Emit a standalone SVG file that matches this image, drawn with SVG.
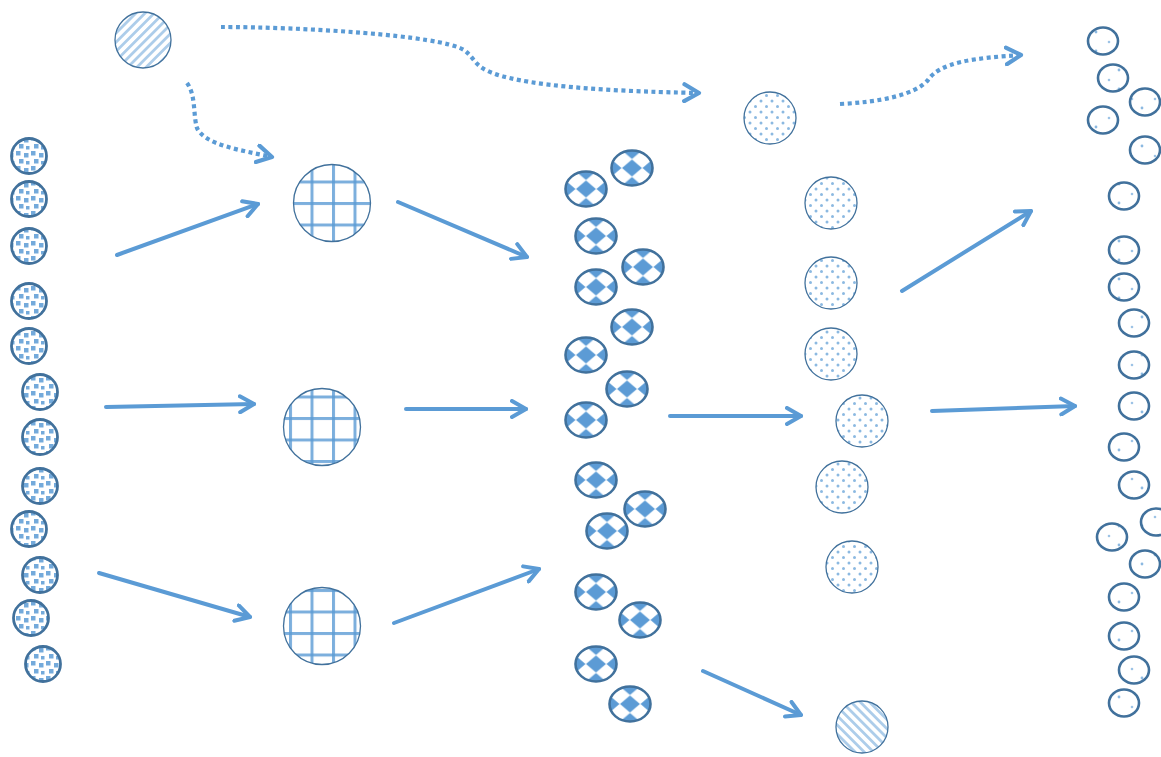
<svg xmlns="http://www.w3.org/2000/svg" width="1161" height="757" viewBox="0 0 1161 757">
<style>
.arr{fill:none;stroke:#5B9BD5;stroke-width:4;stroke-linecap:round;marker-end:url(#ah)}
.dot{fill:none;stroke:#5B9BD5;stroke-width:4.2;stroke-dasharray:4 3.5;marker-end:url(#ah)}
.sq{fill:url(#pSq);stroke:#41719C;stroke-width:2.8}
.grid{fill:url(#pGrid);stroke:#41719C;stroke-width:1.3}
.dia{fill:url(#pDia);stroke:#41719C;stroke-width:2.6}
.dt{fill:url(#pDot);stroke:#41719C;stroke-width:1.3}
.hu{fill:url(#pHatchUp);stroke:#41719C;stroke-width:1.3}
.hd{fill:url(#pHatchDn);stroke:#41719C;stroke-width:1.3}
.sm{fill:url(#pSm);stroke:#41719C;stroke-width:2.6}
</style>
<defs>
<filter id="soft" x="-20%" y="-20%" width="140%" height="140%"><feGaussianBlur stdDeviation="0.6"/></filter>
<marker id="ah" viewBox="0 0 10 10" refX="8" refY="5" markerWidth="5" markerHeight="5" orient="auto" markerUnits="strokeWidth">
<path d="M1,1 L8,5 L1,9" fill="none" stroke="#5B9BD5" stroke-width="2" stroke-linecap="round" stroke-linejoin="round"/>
</marker>
<pattern id="pSq" patternUnits="userSpaceOnUse" width="15" height="15">
<rect width="15" height="15" fill="#fff"/>
<g fill="#5B9BD5" opacity="0.85">
<rect x="1" y="1" width="4.5" height="4.5"/><rect x="9" y="3" width="4.5" height="4.5"/><rect x="4" y="9" width="4.5" height="4.5"/><rect x="11" y="11" width="3.5" height="3.5"/>
</g>
</pattern>
<pattern id="pGrid" patternUnits="userSpaceOnUse" width="21.5" height="21.5" x="9.5" y="8.5">
<rect width="21.5" height="21.5" fill="#fff"/>
<rect x="0" y="0" width="3" height="21.5" fill="#5B9BD5" opacity="0.8"/>
<rect x="0" y="0" width="21.5" height="3" fill="#5B9BD5" opacity="0.8"/>
</pattern>
<pattern id="pDia" patternUnits="objectBoundingBox" x="0.25" y="0.25" width="0.5" height="0.5">
<rect width="20.5" height="17.5" fill="#fff"/>
<path d="M10.25,0.3 L20.2,8.75 L10.25,17.2 L0.3,8.75Z" fill="#5B9BD5" filter="url(#soft)"/>
</pattern>
<pattern id="pDot" patternUnits="userSpaceOnUse" width="11" height="11">
<rect width="11" height="11" fill="#fff"/>
<circle cx="2" cy="2" r="1.5" fill="#5B9BD5" opacity="0.7"/><circle cx="7.5" cy="7.5" r="1.5" fill="#5B9BD5" opacity="0.7"/>
</pattern>
<pattern id="pHatchUp" patternUnits="userSpaceOnUse" width="6.5" height="6.5" patternTransform="rotate(45)">
<rect width="6.5" height="6.5" fill="#fff"/><rect x="0" y="0" width="2.8" height="6.5" fill="#5B9BD5" opacity="0.5"/>
</pattern>
<pattern id="pHatchDn" patternUnits="userSpaceOnUse" width="6.5" height="6.5" patternTransform="rotate(-45)">
<rect width="6.5" height="6.5" fill="#fff"/><rect x="0" y="0" width="2.8" height="6.5" fill="#5B9BD5" opacity="0.5"/>
</pattern>
<pattern id="pSm" patternUnits="userSpaceOnUse" width="23" height="19">
<rect width="23" height="19" fill="#fff"/><circle cx="5" cy="4" r="1.3" fill="#5B9BD5" opacity="0.6"/><circle cx="15" cy="13" r="1.4" fill="#5B9BD5" opacity="0.7"/>
</pattern>
</defs>
<rect width="1161" height="757" fill="#fff"/>

<g id="connectors">
<path class="dot" d="M187,83 C196,95 193,115 197,128 C205,145 240,150 272,157"/>
<path class="dot" d="M221,27 C300,27 440,35 464,50 C480,62 470,72 530,82 C580,90 650,92 699,93"/>
<path class="dot" d="M840,104 C880,102 915,95 928,80 C940,62 975,58 1021,55"/>
<line class="arr" x1="117" y1="255" x2="258" y2="204"/>
<line class="arr" x1="106" y1="407" x2="254" y2="404"/>
<line class="arr" x1="99" y1="573" x2="250" y2="617"/>
<line class="arr" x1="398" y1="202" x2="527" y2="257"/>
<line class="arr" x1="406" y1="409" x2="526" y2="409"/>
<line class="arr" x1="394" y1="623" x2="539" y2="569"/>
<line class="arr" x1="670" y1="416" x2="801" y2="416"/>
<line class="arr" x1="703" y1="671" x2="801" y2="715"/>
<line class="arr" x1="902" y1="291" x2="1031" y2="211"/>
<line class="arr" x1="932" y1="411" x2="1075" y2="406"/>
</g>

<g id="source"><circle class="hu" cx="143" cy="40" r="28"/></g>

<g id="left-column">
<circle class="sq" cx="29" cy="156" r="17.5"/>
<circle class="sq" cx="29" cy="199" r="17.5"/>
<circle class="sq" cx="29" cy="246" r="17.5"/>
<circle class="sq" cx="29" cy="301" r="17.5"/>
<circle class="sq" cx="29" cy="346" r="17.5"/>
<circle class="sq" cx="40" cy="392" r="17.5"/>
<circle class="sq" cx="40" cy="437" r="17.5"/>
<circle class="sq" cx="40" cy="486" r="17.5"/>
<circle class="sq" cx="29" cy="529" r="17.5"/>
<circle class="sq" cx="40" cy="575" r="17.5"/>
<circle class="sq" cx="31" cy="618" r="17.5"/>
<circle class="sq" cx="43" cy="664" r="17.5"/>
</g>

<g id="grid-1"><circle class="grid" cx="332" cy="203" r="38.5"/></g>
<g id="grid-2"><circle class="grid" cx="322" cy="427" r="38.5"/></g>
<g id="grid-3"><circle class="grid" cx="322" cy="626" r="38.5"/></g>

<g id="diamond-column">
<ellipse class="dia" cx="632" cy="168" rx="20.5" ry="17.5"/>
<ellipse class="dia" cx="586" cy="189" rx="20.5" ry="17.5"/>
<ellipse class="dia" cx="596" cy="236" rx="20.5" ry="17.5"/>
<ellipse class="dia" cx="643" cy="267" rx="20.5" ry="17.5"/>
<ellipse class="dia" cx="596" cy="287" rx="20.5" ry="17.5"/>
<ellipse class="dia" cx="632" cy="327" rx="20.5" ry="17.5"/>
<ellipse class="dia" cx="586" cy="355" rx="20.5" ry="17.5"/>
<ellipse class="dia" cx="627" cy="389" rx="20.5" ry="17.5"/>
<ellipse class="dia" cx="586" cy="420" rx="20.5" ry="17.5"/>
<ellipse class="dia" cx="596" cy="480" rx="20.5" ry="17.5"/>
<ellipse class="dia" cx="645" cy="509" rx="20.5" ry="17.5"/>
<ellipse class="dia" cx="607" cy="531" rx="20.5" ry="17.5"/>
<ellipse class="dia" cx="596" cy="592" rx="20.5" ry="17.5"/>
<ellipse class="dia" cx="640" cy="620" rx="20.5" ry="17.5"/>
<ellipse class="dia" cx="596" cy="664" rx="20.5" ry="17.5"/>
<ellipse class="dia" cx="630" cy="704" rx="20.5" ry="17.5"/>
</g>

<g id="dotted-top"><circle class="dt" cx="770" cy="118" r="26"/></g>
<g id="dotted-column">
<circle class="dt" cx="831" cy="203" r="26"/>
<circle class="dt" cx="831" cy="283" r="26"/>
<circle class="dt" cx="831" cy="354" r="26"/>
<circle class="dt" cx="862" cy="421" r="26"/>
<circle class="dt" cx="842" cy="487" r="26"/>
<circle class="dt" cx="852" cy="567" r="26"/>
</g>
<g id="hatched-bottom"><circle class="hd" cx="862" cy="727" r="26"/></g>

<g id="right-column">
<ellipse class="sm" cx="1103" cy="41" rx="15" ry="13.5"/>
<ellipse class="sm" cx="1113" cy="78" rx="15" ry="13.5"/>
<ellipse class="sm" cx="1145" cy="102" rx="15" ry="13.5"/>
<ellipse class="sm" cx="1103" cy="120" rx="15" ry="13.5"/>
<ellipse class="sm" cx="1145" cy="150" rx="15" ry="13.5"/>
<ellipse class="sm" cx="1124" cy="196" rx="15" ry="13.5"/>
<ellipse class="sm" cx="1124" cy="250" rx="15" ry="13.5"/>
<ellipse class="sm" cx="1124" cy="287" rx="15" ry="13.5"/>
<ellipse class="sm" cx="1134" cy="323" rx="15" ry="13.5"/>
<ellipse class="sm" cx="1134" cy="365" rx="15" ry="13.5"/>
<ellipse class="sm" cx="1134" cy="406" rx="15" ry="13.5"/>
<ellipse class="sm" cx="1124" cy="447" rx="15" ry="13.5"/>
<ellipse class="sm" cx="1134" cy="485" rx="15" ry="13.5"/>
<ellipse class="sm" cx="1156" cy="522" rx="15" ry="13.5"/>
<ellipse class="sm" cx="1112" cy="537" rx="15" ry="13.5"/>
<ellipse class="sm" cx="1145" cy="564" rx="15" ry="13.5"/>
<ellipse class="sm" cx="1124" cy="597" rx="15" ry="13.5"/>
<ellipse class="sm" cx="1124" cy="636" rx="15" ry="13.5"/>
<ellipse class="sm" cx="1134" cy="670" rx="15" ry="13.5"/>
<ellipse class="sm" cx="1124" cy="703" rx="15" ry="13.5"/>
</g>
</svg>
